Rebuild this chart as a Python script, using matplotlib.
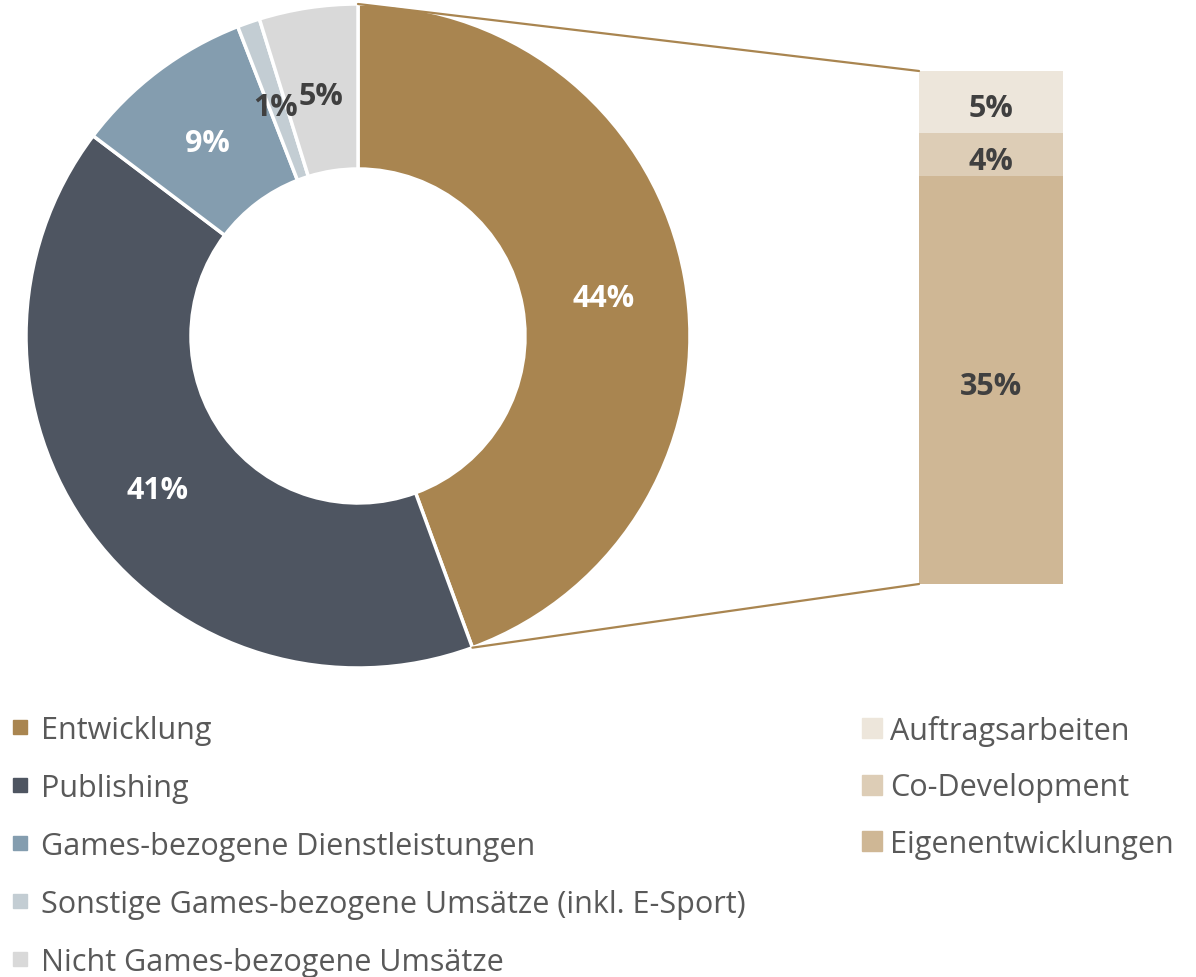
import numpy as np
import matplotlib
matplotlib.use("Agg")
import matplotlib.pyplot as plt
from matplotlib.patches import ConnectionPatch, Rectangle

plt.rcParams['font.family'] = ['Open Sans', 'DejaVu Sans']

# donut data
segments = ["Entwicklung", "Publishing", "Games-bezogene Dienstleistungen",
            "Sonstige Games-bezogene Umsätze (inkl. E-Sport)", "Nicht Games-bezogene Umsätze"]
shares = [44.4, 40.9, 8.8, 1.1, 4.8]
seg_colors = ["#A98550", "#4E5561", "#849DAF", "#C3CDD3", "#D9D9D9"]
seg_text = ["white", "white", "white", "#404040", "#404040"]

# breakdown of "Entwicklung" (bottom -> top)
sub_labels = ["Eigenentwicklungen", "Co-Development", "Auftragsarbeiten"]
sub_shares = [35.3, 3.7, 5.4]
sub_colors = ["#CFB795", "#DDCDB6", "#EDE6DB"]

W, H = 1196, 978
fig = plt.figure(figsize=(W / 100, H / 100), dpi=100)
ax = fig.add_axes([0, 0, 1, 1])

cx, cy, R = 358, H - 337, 332
ax.pie(shares, colors=seg_colors, startangle=90, counterclock=False,
       center=(cx, cy), radius=R, frame=True,
       wedgeprops=dict(width=R - 167, edgecolor='white', linewidth=2.5))
ax.set_xlim(0, W)
ax.set_ylim(0, H)
ax.axis('off')

# percentage labels in the ring (small downward nudge to match the reference)
cum = np.cumsum([0] + shares)
total = sum(shares)
for i, v in enumerate(shares):
    mid = np.deg2rad(90 - (cum[i] + v / 2) / total * 360)
    r = 249
    ax.text(cx + r * np.cos(mid), cy + r * np.sin(mid) - 6, f"{v:.0f}%", ha='center', va='center',
            fontsize=22, fontweight='bold', color=seg_text[i])

# stacked bar
ax2 = fig.add_axes([919 / W, (H - 585) / H, 144 / W, 513 / H])
bottom = 0
for v, c in zip(sub_shares, sub_colors):
    ax2.bar(0, v, bottom=bottom, width=1, color=c, edgecolor='none')
    ax2.annotate(f"{v:.0f}%", (0, bottom + v / 2), xytext=(0, -4.5), textcoords='offset points',
                 ha='center', va='center', fontsize=22, fontweight='bold', color='#404040')
    bottom += v
ax2.set_xlim(-0.5, 0.5)
ax2.set_ylim(0, sum(sub_shares))
ax2.axis('off')

# connector lines
end_ang = np.deg2rad(90 - shares[0] / total * 360)
p_top = (cx, cy + R)
p_end = (cx + R * np.cos(end_ang), cy + R * np.sin(end_ang))
for pa, pb in [(p_top, (0, 1)), (p_end, (0, 0))]:
    con = ConnectionPatch(xyA=pa, coordsA=ax.transData, xyB=pb, coordsB=ax2.transAxes,
                          color="#A98550", lw=1.6)
    fig.add_artist(con)

# legends
for i, (lab, c) in enumerate(zip(segments, seg_colors)):
    y = H - (728 + 58 * i)
    ax.add_patch(Rectangle((13, y - 7), 14, 14, color=c, clip_on=False))
    ax.text(41, y - 3, lab, ha='left', va='center', fontsize=22, color='#595959')

for i, (lab, c) in enumerate(zip(sub_labels[::-1], sub_colors[::-1])):
    y = H - (729 + 56.5 * i)
    ax.add_patch(Rectangle((862, y - 10), 20, 20, color=c, clip_on=False))
    ax.text(890, y - 3, lab, ha='left', va='center', fontsize=22, color='#595959')

fig.savefig("out.png", dpi=100)
